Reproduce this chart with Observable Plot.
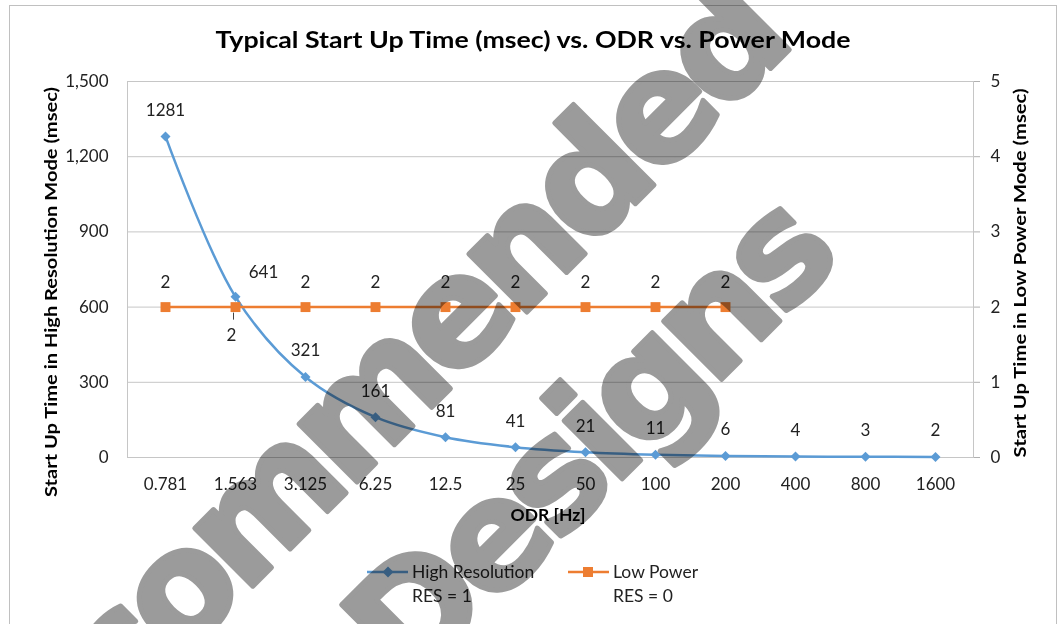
<!DOCTYPE html>
<html><head><meta charset="utf-8">
<script src="https://cdn.jsdelivr.net/npm/d3@7"></script>
<script src="https://cdn.jsdelivr.net/npm/@observablehq/plot@0.6"></script>
<style>
body{margin:0;background:#fff;}
#chart{position:relative;width:1061px;height:624px;overflow:hidden;}
</style></head><body><div id="chart"></div>
<script>
const odr = ["0.781","1.563","3.125","6.25","12.5","25","50","100","200","400","800","1600"];
const highRes = [1281,641,321,161,81,41,21,11,6,4,3,2];
const lowPower = [2,2,2,2,2,2,2,2,2];
const leftTicks = [0,300,600,900,1200,1500];
const rightTicks = [0,1,2,3,4,5];
const title = "Typical Start Up Time (msec) vs. ODR vs. Power Mode";
const yLeftTitle = "Start Up Time in High Resolution Mode (msec)";
const yRightTitle = "Start Up Time in Low Power Mode (msec)";
const xTitle = "ODR [Hz]";
const legendItems = [["High Resolution","RES = 1"],["Low Power","RES = 0"]];
const watermark = ["Recommended","Designs"];

const BLUE = "#5b9bd5", ORANGE = "#ed7d31";
const ratio = leftTicks[leftTicks.length-1] / rightTicks[rightTicks.length-1];
const hr = odr.map((x,i)=>({x, v: highRes[i]}));
const lp = lowPower.map((v,i)=>({x: odr[i], v, y: v*ratio}));
const font = "Lato, sans-serif";

const plot = Plot.plot({
  width: 1061, height: 624,
  marginLeft: 127, marginRight: 88, marginTop: 81, marginBottom: 167,
  style: {fontFamily: font, fontSize: "17px", color: "#222", background: "white", overflow: "visible"},
  x: {type: "band", domain: odr, padding: 0, axis: null},
  y: {domain: [0, 1500], axis: null},
  marks: [
    Plot.gridY(leftTicks, {stroke: "#c6c6c6", strokeOpacity: 1, strokeWidth: 1}),
    Plot.frame({stroke: "#c6c6c6"}),
    Plot.axisX({tickSize: 0, tickPadding: 20, label: null, fontSize: 17}),
    Plot.axisY({anchor: "left", ticks: leftTicks, tickFormat: d3.format(","), tickSize: 0, tickPadding: 19, label: null, fontSize: 17}),
    Plot.axisY({anchor: "right", ticks: leftTicks, tickFormat: d => d/ratio, tickSize: 6, stroke: "#b0b0b0", tickPadding: 11, label: null, fontSize: 17}),
    Plot.line(hr, {x: "x", y: "v", stroke: BLUE, strokeWidth: 2.5, curve: "catmull-rom"}),
    Plot.dot(hr, {x: "x", y: "v", symbol: "diamond2", fill: BLUE, r: 4.5}),
    Plot.line(lp, {x: "x", y: "y", stroke: ORANGE, strokeWidth: 2.5}),
    Plot.dot(lp, {x: "x", y: "y", symbol: "square", fill: ORANGE, r: 5.6}),
    Plot.text(hr, {filter: (d,i) => i !== 1, x: "x", y: "v", text: d => String(d.v), dy: -26, fill: "#222"}),
    Plot.text(hr, {filter: (d,i) => i === 1, x: "x", y: "v", text: d => String(d.v), dx: 28, dy: -24, fill: "#222"}),
    Plot.text(lp, {filter: (d,i) => i !== 1, x: "x", y: "y", text: d => String(d.v), dy: -25, fill: "#222"}),
    Plot.text(lp, {filter: (d,i) => i === 1, x: "x", y: "y", text: d => String(d.v), dx: -4, dy: 28, fill: "#222"}),
    Plot.link(lp, {filter: (d,i) => i === 1, x1: "x", x2: "x", y1: d => d.y - 22, y2: d => d.y - 50, dx: -2, stroke: "#444", strokeWidth: 1})
  ]
});
document.getElementById("chart").appendChild(plot);

const svg = d3.select(plot);
// outer chart border
svg.append("rect").attr("x", 9.5).attr("y", 5.5).attr("width", 1047).attr("height", 640)
  .attr("fill", "none").attr("stroke", "#c0c0c0");

// title
svg.append("text").attr("x", 533).attr("y", 48).attr("text-anchor", "middle")
  .attr("font-family", font).attr("font-weight", "bold").attr("font-size", 23).attr("fill", "#000")
  .attr("textLength", 635).attr("lengthAdjust", "spacingAndGlyphs").text(title);

// axis titles
svg.append("text").attr("transform", "translate(57,292) rotate(-90)").attr("text-anchor", "middle")
  .attr("font-family", font).attr("font-weight", "bold").attr("font-size", 17.5).attr("fill", "#000")
  .attr("textLength", 410).attr("lengthAdjust", "spacingAndGlyphs").text(yLeftTitle);
svg.append("text").attr("transform", "translate(1026,273) rotate(-90)").attr("text-anchor", "middle")
  .attr("font-family", font).attr("font-weight", "bold").attr("font-size", 17.5).attr("fill", "#000")
  .attr("textLength", 369).attr("lengthAdjust", "spacingAndGlyphs").text(yRightTitle);
svg.append("text").attr("x", 548).attr("y", 521).attr("text-anchor", "middle")
  .attr("font-family", font).attr("font-weight", "bold").attr("font-size", 17.5).attr("fill", "#000")
  .text(xTitle);

// legend
const legX = [367, 568];
legendItems.forEach((it, i) => {
  const x0 = legX[i], col = i === 0 ? BLUE : ORANGE;
  svg.append("line").attr("x1", x0).attr("x2", x0 + 41).attr("y1", 572).attr("y2", 572)
    .attr("stroke", col).attr("stroke-width", 2.5);
  if (i === 0) {
    svg.append("path").attr("d", "M0,-5.5L5.5,0L0,5.5L-5.5,0Z").attr("transform", `translate(${x0+21},572)`).attr("fill", col);
  } else {
    svg.append("rect").attr("x", x0 + 15).attr("y", 567).attr("width", 10).attr("height", 10).attr("fill", col);
  }
  svg.append("text").attr("x", x0 + 45).attr("y", 578).attr("text-anchor", "start")
    .attr("font-family", font).attr("font-size", 17.5).attr("fill", "#222").text(it[0]);
  svg.append("text").attr("x", x0 + 45).attr("y", 602).attr("text-anchor", "start")
    .attr("font-family", font).attr("font-size", 17.5).attr("fill", "#222").text(it[1]);
});

// watermark
const wm = [[357, 424], [595, 448]];
watermark.forEach((w, i) => {
  svg.append("text").attr("transform", `translate(${wm[i][0]},${wm[i][1]}) rotate(-45)`)
    .attr("x", 0).attr("y", 41).attr("text-anchor", "middle")
    .attr("font-family", "DejaVu Sans").attr("font-weight", "bold").attr("font-size", 150)
    .attr("letter-spacing", -9)
    .attr("fill", "#9b9b9b").attr("stroke", "#9b9b9b").attr("stroke-width", 5).attr("stroke-linejoin", "round")
    .style("mix-blend-mode", "multiply").text(w);
});
</script></body></html>
